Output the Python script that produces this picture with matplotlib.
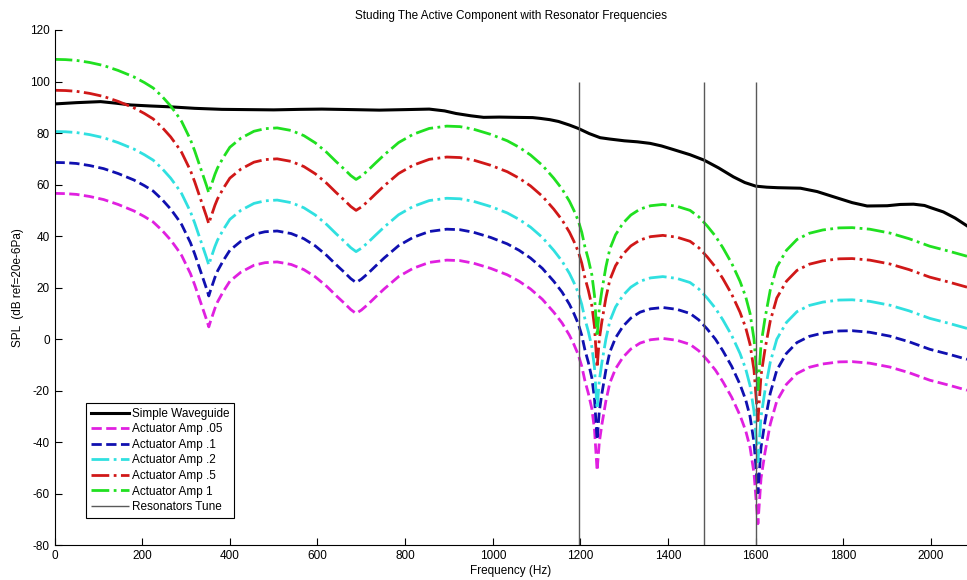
import matplotlib
matplotlib.use('Agg')
import matplotlib.pyplot as plt

plt.rcParams['font.family'] = ['Liberation Sans', 'DejaVu Sans']
plt.rcParams['font.size'] = 8.5
plt.rcParams['axes.unicode_minus'] = False

# waveguide with no control
guide_freq = [0, 50, 105, 140, 174, 220, 262, 320, 382, 440, 500, 560, 610,
              680, 741, 800, 855, 890, 916, 950, 979, 1015, 1050, 1091, 1108,
              1130, 1150, 1175, 1195, 1220, 1245, 1266, 1300, 1330, 1359, 1385,
              1412, 1450, 1482, 1515, 1549, 1575, 1600, 1625, 1650, 1702, 1740,
              1777, 1820, 1854, 1900, 1930, 1960, 1985, 2000, 2028, 2055, 2082]
guide_spl = [91.3, 91.8, 92.2, 91.6, 90.9, 90.5, 90.2, 89.6, 89.2, 89.1, 89.0,
             89.2, 89.3, 89.1, 88.9, 89.1, 89.3, 88.6, 87.6, 86.7, 86.1, 86.2,
             86.1, 86.0, 85.7, 85.2, 84.5, 83.1, 81.8, 79.8, 78.2, 77.7, 77.0,
             76.6, 76.0, 75.0, 73.6, 71.6, 69.5, 66.5, 63.0, 60.8, 59.4, 59.0,
             58.8, 58.6, 57.3, 55.3, 53.0, 51.7, 51.8, 52.3, 52.4, 51.9, 51.0,
             49.4, 47.0, 44.0]

# response for the smallest actuator amplitude (.05)
act_freq = [0, 25, 50, 80, 112, 145, 181, 205, 225, 245, 265, 280, 290, 300,
            310, 320, 328, 336, 342, 347, 352, 356, 360, 366, 372, 385, 400,
            425, 455, 480, 508, 540, 569, 595, 621, 642, 661, 676, 688, 700,
            715, 732, 752, 785, 818, 855, 895, 925, 956, 995, 1033, 1060, 1086,
            1113, 1139, 1158, 1175, 1185, 1195, 1203, 1210, 1218, 1226, 1232,
            1238, 1243, 1249, 1258, 1267, 1280, 1297, 1315, 1336, 1360, 1388,
            1420, 1450, 1470, 1489, 1508, 1525, 1545, 1564, 1577, 1587, 1596,
            1605, 1612, 1621, 1633, 1648, 1670, 1694, 1722, 1753, 1790, 1820,
            1860, 1906, 1950, 1997, 2040, 2082]
act_spl = [56.6, 56.5, 56.2, 55.4, 54.2, 52.3, 49.8, 47.6, 45.5, 42.3, 38.5,
           35.0, 32.5, 29.0, 25.5, 21.0, 17.0, 13.0, 10.0, 7.5, 4.8, 7.0, 9.0,
           12.0, 14.5, 18.5, 22.5, 26.0, 28.7, 29.7, 30.0, 29.0, 27.0, 24.2,
           20.5, 17.0, 14.0, 11.5, 10.0, 11.3, 13.5, 16.3, 19.5, 24.3, 27.5,
           29.8, 30.7, 30.5, 29.5, 27.5, 25.0, 22.5, 19.5, 15.5, 10.5, 6.3, 1.5,
           -2.0, -6.0, -10.5, -16.0, -21.0, -27.0, -35.0, -51.0, -40.0, -33.0,
           -24.0, -17.0, -11.5, -7.0, -3.8, -1.5, -0.2, 0.3, -0.4, -2.0, -4.5,
           -8.0, -12.0, -16.5, -22.5, -29.5, -35.5, -42.0, -52.0, -71.6, -54.0,
           -44.0, -33.0, -24.0, -17.5, -13.3, -10.9, -9.6, -8.8, -8.7, -9.3,
           -10.8, -13.0, -15.9, -17.8, -19.8]

# level gain of each amplitude relative to amp .05 (dB)
amp_labels = ['Actuator Amp .05', 'Actuator Amp .1', 'Actuator Amp .2',
              'Actuator Amp .5', 'Actuator Amp 1']
amp_gain = [0, 12, 24, 40, 52]
amp_colors = ['#e020e0', '#1010b0', '#30e0e0', '#d01818', '#20e020']
amp_styles = ['--', '--', '-.', '-.', '-.']

resonator_freq = [1196, 1482, 1600]

fig = plt.figure(figsize=(9.67, 5.80), dpi=100)
ax = fig.add_axes([0.0564, 0.0597, 0.9436, 0.8886])

ax.plot(guide_freq, guide_spl, '-', color='k', lw=2.2, label='Simple Waveguide')
for lab, g, c, ls in zip(amp_labels, amp_gain, amp_colors, amp_styles):
    ax.plot(act_freq, [v + g for v in act_spl], ls, color=c, lw=2.0, label=lab)
ax.vlines(resonator_freq, -80, 100, color='0.35', lw=1.0, label='Resonators Tune')

ax.set_xlim(0, 2082)
ax.set_ylim(-80, 120)
ax.set_xticks(range(0, 2001, 200))
ax.set_yticks(range(-80, 121, 20))
ax.tick_params(direction='in', length=5, width=0.8, labelsize=8.5)
ax.spines['top'].set_visible(False)
ax.spines['right'].set_visible(False)

ax.set_title('Studing The Active Component with Resonator Frequencies',
             fontsize=8.5, pad=8)
ax.set_xlabel('Frequency (Hz)', labelpad=2)
ax.set_ylabel('SPL  (dB ref=20e-6Pa)', labelpad=4)

leg = ax.legend(loc='upper left', bbox_to_anchor=(0.0345, 0.276),
                borderaxespad=0, fancybox=False, framealpha=1,
                edgecolor='k', handlelength=3.2, handletextpad=0.3,
                labelspacing=0.3, borderpad=0.4, fontsize=8.5)
leg.get_frame().set_linewidth(0.8)

fig.savefig('out.png', dpi=100)
